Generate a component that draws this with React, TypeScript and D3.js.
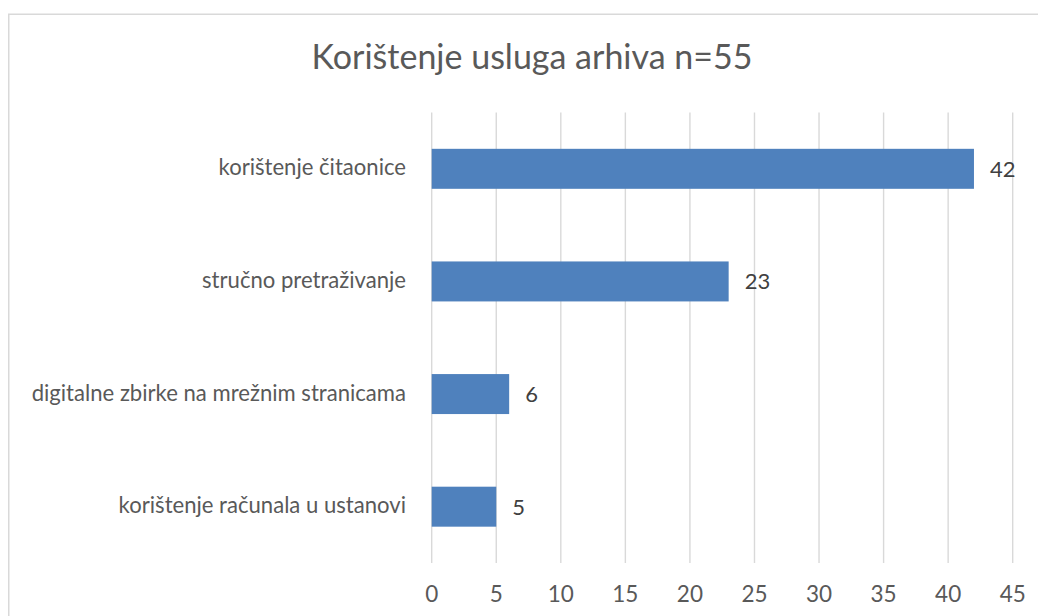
import React, { useEffect, useRef } from 'react'
import * as d3 from 'd3'

const categories = [
	'korištenje čitaonice',
	'stručno pretraživanje',
	'digitalne zbirke na mrežnim stranicama',
	'korištenje računala u ustanovi',
]
const values = [42, 23, 6, 5]
const ticks = [0, 5, 10, 15, 20, 25, 30, 35, 40, 45]
const title = 'Korištenje usluga arhiva n=55'

const W = 1038
const H = 616
const FONT = 'Lato, Calibri, sans-serif'

export default function App() {
	const ref = useRef<SVGSVGElement>(null)

	useEffect(() => {
		const svg = d3.select(ref.current)
		svg.selectAll('*').remove()

		const x = d3.scaleLinear().domain([0, 45]).range([431.7, 1012.7])
		const y = d3
			.scaleBand()
			.domain(categories)
			.range([112.5, 563])
			.paddingInner(0.645)
			.paddingOuter(0.3225)

		// outer border of the chart area
		svg
			.append('rect')
			.attr('x', 8.75)
			.attr('y', 14.25)
			.attr('width', 1100)
			.attr('height', 700)
			.attr('fill', 'none')
			.attr('stroke', '#d9d9d9')
			.attr('stroke-width', 1.5)

		svg
			.append('text')
			.attr('x', 532)
			.attr('y', 69.3)
			.attr('text-anchor', 'middle')
			.attr('font-family', FONT)
			.attr('font-size', 34)
			.attr('fill', '#595959')
			.text(title)

		const grid = svg.append('g')
		grid
			.selectAll('line')
			.data(ticks)
			.enter()
			.append('line')
			.attr('x1', (d) => x(d))
			.attr('x2', (d) => x(d))
			.attr('y1', 112.5)
			.attr('y2', 563)
			.attr('stroke', '#d9d9d9')
			.attr('stroke-width', 1.4)

		grid
			.selectAll('text')
			.data(ticks)
			.enter()
			.append('text')
			.attr('x', (d) => x(d))
			.attr('y', 601.5)
			.attr('text-anchor', 'middle')
			.attr('font-family', FONT)
			.attr('font-size', 22.5)
			.attr('fill', '#595959')
			.text((d) => d)

		const bars = svg.append('g').selectAll('g').data(categories).enter().append('g')

		bars
			.append('rect')
			.attr('x', x(0))
			.attr('y', (d) => y(d)!)
			.attr('width', (d, i) => x(values[i]) - x(0))
			.attr('height', y.bandwidth())
			.attr('fill', '#4f81bd')

		bars
			.append('text')
			.attr('x', (d, i) => x(values[i]) + 16)
			.attr('y', (d) => y(d)! + y.bandwidth() / 2 + 8)
			.attr('font-family', FONT)
			.attr('font-size', 22)
			.attr('fill', '#404040')
			.text((d, i) => values[i])

		bars
			.append('text')
			.attr('x', 406)
			.attr('y', (d) => y(d)! + y.bandwidth() / 2 + 6.5)
			.attr('text-anchor', 'end')
			.attr('font-family', FONT)
			.attr('font-size', 22.1)
			.attr('fill', '#595959')
			.text((d) => d)
	}, [])

	return (
		<svg
			ref={ref}
			width={W}
			height={H}
			style={{ position: 'absolute', left: 0, top: 0, background: '#fff' }}
		/>
	)
}
